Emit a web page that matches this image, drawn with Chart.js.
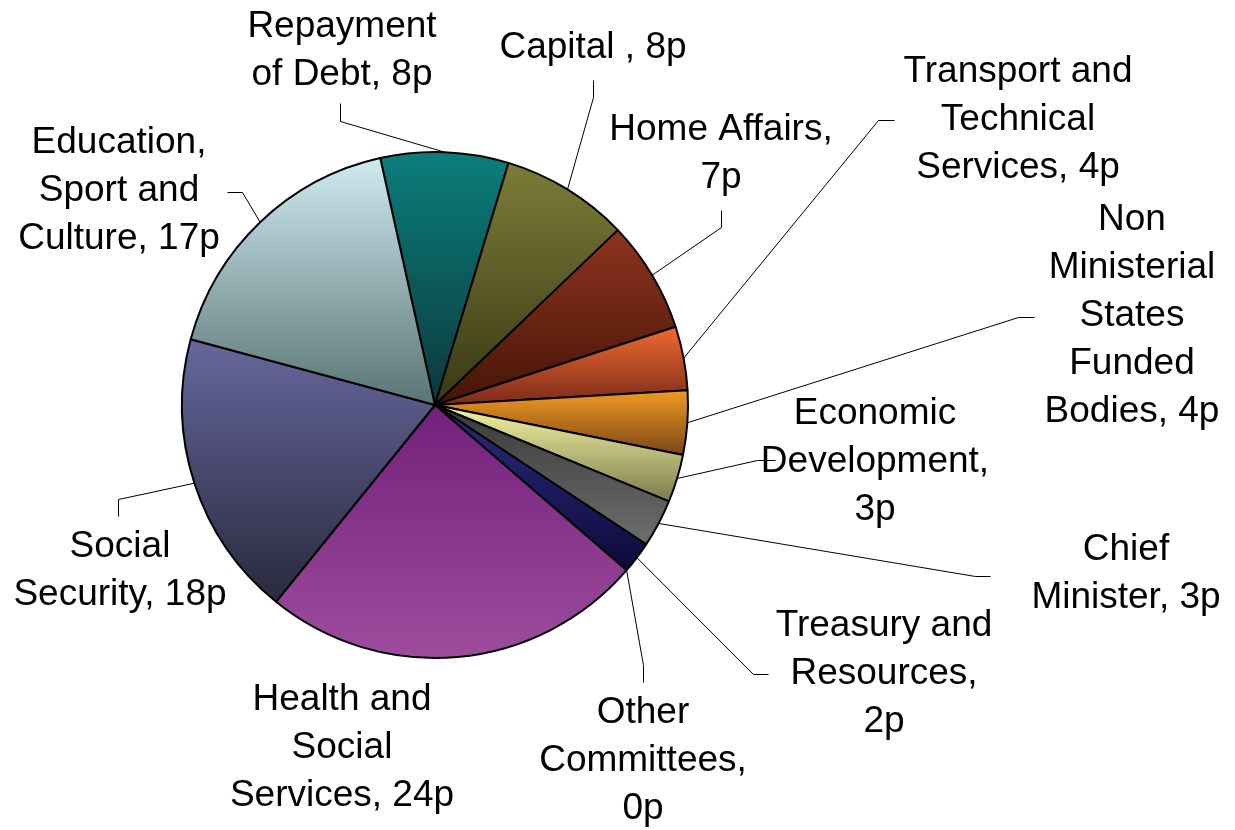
<!DOCTYPE html>
<html>
<head>
<meta charset="utf-8">
<title>Where each pound goes</title>
<script src="https://cdn.jsdelivr.net/npm/chart.js@4.4.0/dist/chart.umd.min.js"></script>
<style>
  body { margin: 0; background: #fff; }
  #wrap { width: 1235px; height: 830px; }
</style>
</head>
<body>
<div id="wrap"><canvas id="pie"></canvas></div>
<script>
// spend per pound, in pence ("\n" marks where a label wraps)
const departments = [
  'Repayment\nof Debt', 'Capital ', 'Home Affairs', 'Transport and\nTechnical\nServices',
  'Non\nMinisterial\nStates\nFunded\nBodies', 'Economic\nDevelopment', 'Chief\nMinister',
  'Treasury and\nResources', 'Other\nCommittees', 'Health and\nSocial\nServices',
  'Social\nSecurity', 'Education,\nSport and\nCulture'
];
const pence = [8, 8, 7, 4, 4, 3, 3, 2, 0, 24, 18, 17];
const valueBreak = [', ', ', ', ',\n', ', ', ', ', ',\n', ', ', ',\n', ',\n', ', ', ', ', ', '];

// each slice is shaded top -> bottom
const shadeTop = ['#0b7e7c', '#7d7d37', '#8f3421', '#ef6b2e', '#f29a20', '#f5f5a2',
                  '#393939', '#2b2b7e', '#2b2b7e', '#73207b', '#67679d', '#cfebf1'];
const shadeBottom = ['#0c383c', '#383816', '#461405', '#7c2a1b', '#7a4618', '#7c7c4e',
                     '#6e6e6e', '#0e0a3c', '#0e0a3c', '#9d4c9d', '#29293e', '#587474'];

// label centre x, first line y, leader [attach x, attach y, elbow x, elbow y]
const labelSpots = [
  { x: 342, y: 27, lead: [340, 103, 340, 121] },
  { x: 593, y: 48, lead: [593, 80, 593, 97] },
  { x: 721, y: 130, lead: [721, 210, 721, 227] },
  { x: 1018, y: 72, lead: [894, 120, 878, 120] },
  { x: 1132, y: 220, lead: [1034, 317, 1018, 317] },
  { x: 875, y: 414, lead: [775, 460, 757, 460] },
  { x: 1126, y: 550, lead: [990, 576, 975, 576] },
  { x: 884, y: 626, lead: [768, 674, 753, 674] },
  { x: 643, y: 713, lead: [643, 682, 643, 665] },
  { x: 342, y: 700, lead: null },
  { x: 120, y: 547, lead: [118, 516, 118, 499] },
  { x: 119, y: 143, lead: [227, 192, 242, 192] }
];
const lineGap = 48;

// vertical extent of a pie slice
function sliceSpan(arc) {
  const { y, outerRadius: r, startAngle: a0, endAngle: a1 } = arc;
  let top = Math.min(y, y + r * Math.sin(a0), y + r * Math.sin(a1));
  let bottom = Math.max(y, y + r * Math.sin(a0), y + r * Math.sin(a1));
  for (let k = -4; k <= 4; k++) {
    const a = Math.PI / 2 + k * Math.PI;
    if (a > a0 && a < a1) {
      top = Math.min(top, y + r * Math.sin(a));
      bottom = Math.max(bottom, y + r * Math.sin(a));
    }
  }
  return [top, bottom];
}

function shade(ctx) {
  const i = ctx.dataIndex;
  const arc = ctx.element;
  if (!arc || arc.x === undefined) return shadeTop[i];
  const [top, bottom] = sliceSpan(arc);
  const g = ctx.chart.ctx.createLinearGradient(0, top, 0, bottom);
  g.addColorStop(0, shadeTop[i]);
  g.addColorStop(1, shadeBottom[i]);
  return g;
}

const calloutLabels = {
  id: 'calloutLabels',
  afterDatasetsDraw(chart) {
    const c = chart.ctx;
    const arcs = chart.getDatasetMeta(0).data;
    c.save();
    c.strokeStyle = '#000';
    c.lineWidth = 1;
    arcs.forEach((arc, i) => {
      const spot = labelSpots[i];
      if (spot.lead) {
        const mid = (arc.startAngle + arc.endAngle) / 2;
        const rx = arc.x + arc.outerRadius * Math.cos(mid);
        const ry = arc.y + arc.outerRadius * Math.sin(mid);
        c.beginPath();
        c.moveTo(rx, ry);
        c.lineTo(spot.lead[2] + 0.5, spot.lead[3] + 0.5);
        c.lineTo(spot.lead[0] + 0.5, spot.lead[1] + 0.5);
        c.stroke();
      }
      const text = departments[i] + valueBreak[i] + pence[i] + 'p';
      c.fillStyle = '#000';
      c.font = '37px "Liberation Sans", Arial, sans-serif';
      c.textAlign = 'center';
      c.textBaseline = 'middle';
      text.split('\n').forEach((line, k) => {
        c.fillText(line, spot.x, spot.y + k * lineGap);
      });
    });
    c.restore();
  }
};

const chart = new Chart(document.getElementById('pie'), {
  type: 'pie',
  data: {
    labels: departments,
    datasets: [{
      data: pence,
      backgroundColor: shade,
      borderColor: '#000',
      borderWidth: 2
    }]
  },
  options: {
    responsive: true,
    maintainAspectRatio: false,
    animation: false,
    rotation: -12.5,
    layout: {
      padding: { left: 181, top: 151, right: 546, bottom: 171 }
    },
    plugins: {
      legend: { display: false },
      tooltip: { enabled: false }
    }
  },
  plugins: [calloutLabels]
});
// second pass so the shading can read each slice's geometry
chart.update();
</script>
</body>
</html>
